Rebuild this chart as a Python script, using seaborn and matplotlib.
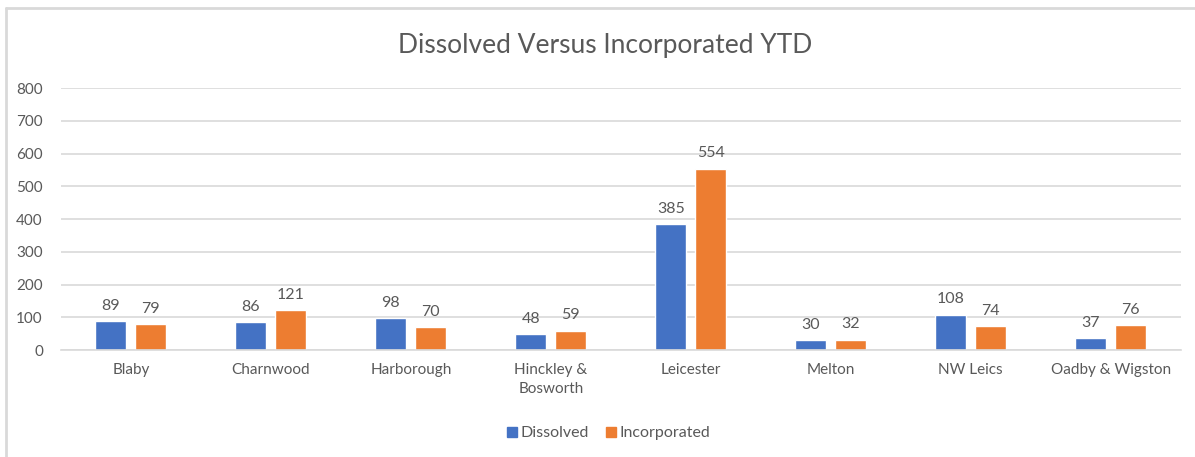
import pandas as pd
import seaborn as sns
import matplotlib.pyplot as plt
from matplotlib.lines import Line2D

# data
areas = ['Blaby', 'Charnwood', 'Harborough', 'Hinckley &\nBosworth', 'Leicester',
         'Melton', 'NW Leics', 'Oadby & Wigston']
dissolved = [89, 86, 98, 48, 385, 30, 108, 37]
incorporated = [79, 121, 70, 59, 554, 32, 74, 76]
series = ['Dissolved', 'Incorporated']
y_ticks = [0, 100, 200, 300, 400, 500, 600, 700, 800]

df = pd.DataFrame({'area': areas * 2,
                   'count': dissolved + incorporated,
                   'type': [series[0]] * len(areas) + [series[1]] * len(areas)})

sns.set_style('white')
plt.rcParams['font.family'] = ['Lato', 'DejaVu Sans']
text_col = '#595959'

fig = plt.figure(figsize=(11.95, 4.57), dpi=100)
ax = fig.add_axes([0.051, 0.234, 0.937, 0.573])

sns.barplot(data=df, x='area', y='count', hue='type', order=areas, hue_order=series,
            palette=['#4472C4', '#ED7D31'], width=0.571, gap=0.225,
            saturation=1, ax=ax, legend=False)

for c in ax.containers:
    ax.bar_label(c, padding=6, fontsize=11.5, color=text_col)

ax.set_ylim(0, 800)
ax.set_yticks(y_ticks)
ax.grid(axis='y', color='#D9D9D9', linewidth=1.2)
ax.set_axisbelow(True)
for s in ['top', 'right', 'left']:
    ax.spines[s].set_visible(False)
ax.spines['bottom'].set_color('#D9D9D9')
ax.spines['bottom'].set_linewidth(1.2)
ax.tick_params(axis='both', length=0, labelsize=11, labelcolor=text_col)
ax.tick_params(axis='y', pad=13)
ax.tick_params(axis='x', pad=9)
for lbl in ax.get_xticklabels():
    lbl.set_linespacing(1.45)
ax.set_xlabel('')
ax.set_ylabel('')
ax.set_xlim(-0.5, len(areas) - 0.5)

fig.text(0.506, 0.90, 'Dissolved Versus Incorporated YTD', ha='center', va='center',
         fontsize=19, color=text_col)

handles = [Line2D([], [], marker='s', linestyle='', markersize=7, color=c)
           for c in ['#4472C4', '#ED7D31']]
fig.legend(handles, series, loc='center', bbox_to_anchor=(0.508, 0.052), ncol=2,
           frameon=False, fontsize=11.5, labelcolor=text_col, handletextpad=0.05,
           handlelength=1.0, columnspacing=0.9)

# chart-area border (left and top visible in the crop)
fig.add_artist(Line2D([6 / 1195, 6 / 1195], [0, 1 - 8 / 457], color='#D9D9D9', linewidth=2))
fig.add_artist(Line2D([6 / 1195, 1], [1 - 8 / 457, 1 - 8 / 457], color='#D9D9D9', linewidth=2))

fig.savefig('out.png', dpi=100)
